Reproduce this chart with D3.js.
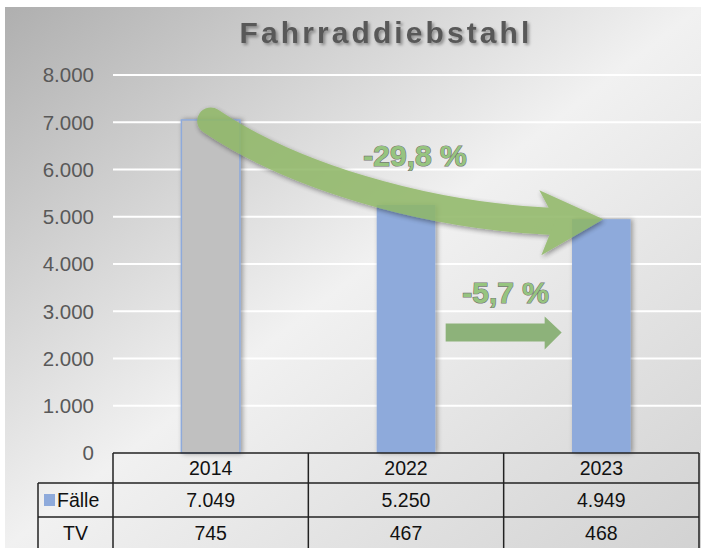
<!DOCTYPE html>
<html>
<head>
<meta charset="utf-8">
<script src="https://cdn.jsdelivr.net/npm/d3@7"></script>
<style>
  html, body { margin: 0; padding: 0; background: #fff; }
  svg { display: block; font-family: 'Liberation Sans', Arial, sans-serif; }
</style>
</head>
<body>
<div id="chart"></div>
<script>
// Daten
const years = ['2014', '2022', '2023']
const faelle = [7049, 5250, 4949]
const tv = [745, 467, 468]
const yTicks = [0, 1000, 2000, 3000, 4000, 5000, 6000, 7000, 8000]
const title = 'Fahrraddiebstahl'

const de = d3.formatLocale({ decimal: ',', thousands: '.', grouping: [3], currency: ['', ' €'], minus: '-' })
const fmtInt = de.format(',d')
const fmtPct = de.format(',.1f')

const width = 701
const height = 548
const chart = {
  left: 113,
  right: 699,
  top: 75,
  bottom: 453,
  headLeft: 38,
  rows: [453, 483, 517, 548]
}

const svg = d3.select('#chart')
  .append('svg')
  .attr('width', width)
  .attr('height', height)

const defs = svg.append('defs')

let bg = defs.append('linearGradient')
  .attr('id', 'bg')
  .attr('x1', 0).attr('y1', 0)
  .attr('x2', 1).attr('y2', 1)
bg.append('stop').attr('offset', 0).attr('stop-color', '#afafaf')
bg.append('stop').attr('offset', 0.5).attr('stop-color', '#f1f1f1')
bg.append('stop').attr('offset', 1).attr('stop-color', '#d2d2d2')

defs.append('filter')
  .attr('id', 'titleShadow')
  .attr('x', '-10%').attr('y', '-30%').attr('width', '120%').attr('height', '160%')
  .append('feDropShadow')
  .attr('dx', 2).attr('dy', 2)
  .attr('stdDeviation', 1.5)
  .attr('flood-color', '#000')
  .attr('flood-opacity', 0.35)

defs.append('filter')
  .attr('id', 'barShadow')
  .attr('x', '-30%').attr('y', '-10%').attr('width', '160%').attr('height', '120%')
  .append('feDropShadow')
  .attr('dx', 2).attr('dy', 0)
  .attr('stdDeviation', 2.5)
  .attr('flood-color', '#000')
  .attr('flood-opacity', 0.35)

defs.append('filter')
  .attr('id', 'arrowShadow')
  .attr('x', '-10%').attr('y', '-20%').attr('width', '120%').attr('height', '140%')
  .append('feDropShadow')
  .attr('dx', 1).attr('dy', 2)
  .attr('stdDeviation', 2.5)
  .attr('flood-color', '#000')
  .attr('flood-opacity', 0.45)

// Hintergrund
svg.append('rect')
  .attr('x', 5)
  .attr('y', 7)
  .attr('width', width - 5)
  .attr('height', height - 7)
  .attr('fill', 'url(#bg)')

svg.append('text')
  .attr('x', 386)
  .attr('y', 43)
  .attr('text-anchor', 'middle')
  .attr('font-size', 30)
  .attr('font-weight', 'bold')
  .attr('letter-spacing', 3.1)
  .attr('fill', '#595959')
  .attr('filter', 'url(#titleShadow)')
  .text(title)

const x = d3.scaleBand()
  .domain(years)
  .range([chart.left, chart.right])
  .padding(0)

const y = d3.scaleLinear()
  .domain([0, 8000])
  .range([chart.bottom, chart.top])

// Gitterlinien + Achse
svg.append('g')
  .selectAll('line')
  .data(yTicks.filter(d => d > 0))
  .enter()
  .append('line')
  .attr('x1', chart.left)
  .attr('x2', width)
  .attr('y1', d => y(d))
  .attr('y2', d => y(d))
  .style('stroke', '#fff')
  .style('stroke-width', 2)

svg.append('g')
  .selectAll('text')
  .data(yTicks)
  .enter()
  .append('text')
  .attr('x', 94)
  .attr('y', d => y(d))
  .attr('dy', '0.36em')
  .attr('text-anchor', 'end')
  .attr('font-size', 20.5)
  .attr('fill', '#595959')
  .text(d => fmtInt(d))

// Balken
const barW = x.bandwidth() * 0.3
svg.append('g')
  .selectAll('rect')
  .data(faelle)
  .enter()
  .append('rect')
  .attr('x', (d, i) => x(years[i]) + (x.bandwidth() - barW) / 2)
  .attr('y', d => y(d))
  .attr('width', barW)
  .attr('height', d => chart.bottom - y(d))
  .attr('fill', (d, i) => i === 0 ? '#c0c0c0' : '#8eaadb')
  .style('stroke', '#8eaadb')
  .style('stroke-width', (d, i) => i === 0 ? 1.5 : 0)
  .attr('filter', 'url(#barShadow)')

// großer Pfeil 2014 -> 2023
const cx = i => x(years[i]) + x.bandwidth() / 2
const x0 = cx(0)
const y0 = y(faelle[0]) + 1
const x1 = cx(2) + 2
const y1 = y(faelle[2])
const headLen = 64
const headHalf = 33
const bx = x1 - headLen + 6

let bigArrow = svg.append('g')
  .attr('filter', 'url(#arrowShadow)')
  .style('opacity', 0.86)

bigArrow.append('path')
  .attr('d', `M ${x0} ${y0} C ${x0 + 80} ${y0 + 54}, ${x0 + 210} ${y1 - 4}, ${bx + 4} ${y1 + 2}`)
  .style('fill', 'none')
  .style('stroke', '#8fb766')
  .style('stroke-width', 27)
  .style('stroke-linecap', 'round')

bigArrow.append('path')
  .attr('d', `M ${x1} ${y1} L ${x1 - headLen} ${y1 - headHalf + 4} L ${bx + 10} ${y1 + 1} L ${x1 - headLen + 2} ${y1 + headHalf + 3} Z`)
  .style('fill', '#8fb766')

// kleiner Pfeil 2022 -> 2023
const mid = x(years[2])
const ay = y(2550)
svg.append('path')
  .attr('d', `M ${mid - 58} ${ay - 9} L ${mid + 41} ${ay - 9} L ${mid + 41} ${ay - 16}
    L ${mid + 58} ${ay} L ${mid + 41} ${ay + 17} L ${mid + 41} ${ay + 9} L ${mid - 58} ${ay + 9} Z`)
  .style('fill', '#8db27a')

// Prozentangaben
const pct = (a, b) => fmtPct((b - a) / a * 100) + ' %'

const labels = [
  { text: pct(faelle[0], faelle[2]), x: (x0 + x1) / 2 + 8, y: 166 },
  { text: pct(faelle[1], faelle[2]), x: mid + 2, y: 303 }
]

svg.append('g')
  .selectAll('text')
  .data(labels)
  .enter()
  .append('text')
  .attr('x', d => d.x)
  .attr('y', d => d.y)
  .attr('text-anchor', 'middle')
  .attr('font-size', 30)
  .attr('font-weight', 'bold')
  .attr('fill', '#96c47f')
  .style('stroke', '#747474')
  .style('stroke-width', 1.2)
  .style('paint-order', 'stroke')
  .text(d => d.text)

// Datentabelle
let table = svg.append('g')
  .style('stroke', '#222')
  .style('stroke-width', 1.5)

const r = chart.rows
table.append('line').attr('x1', chart.left).attr('x2', chart.right).attr('y1', r[0]).attr('y2', r[0])
table.append('line').attr('x1', chart.headLeft).attr('x2', chart.right).attr('y1', r[1]).attr('y2', r[1])
table.append('line').attr('x1', chart.headLeft).attr('x2', chart.right).attr('y1', r[2]).attr('y2', r[2])
table.append('line').attr('x1', chart.headLeft).attr('x2', chart.headLeft).attr('y1', r[1]).attr('y2', r[3])

table.selectAll('.vline')
  .data(years.concat(['end']))
  .enter()
  .append('line')
  .attr('class', 'vline')
  .attr('x1', d => d === 'end' ? chart.right : x(d))
  .attr('x2', d => d === 'end' ? chart.right : x(d))
  .attr('y1', r[0])
  .attr('y2', r[3])

const rowY = i => (r[i] + r[i + 1]) / 2
const rows = [
  { label: '', values: years },
  { label: 'Fälle', values: faelle.map(fmtInt) },
  { label: 'TV', values: tv.map(fmtInt) }
]

rows.forEach((row, ri) => {
  svg.append('g')
    .selectAll('text')
    .data(row.values)
    .enter()
    .append('text')
    .attr('x', (d, i) => x(years[i]) + x.bandwidth() / 2)
    .attr('y', rowY(ri))
    .attr('dy', '0.36em')
    .attr('text-anchor', 'middle')
    .attr('font-size', 19.5)
    .attr('fill', '#111')
    .text(d => d)
})

svg.append('rect')
  .attr('x', 44)
  .attr('y', rowY(1) - 6)
  .attr('width', 11)
  .attr('height', 12)
  .attr('fill', '#8eaadb')

svg.append('text')
  .attr('x', 57)
  .attr('y', rowY(1))
  .attr('dy', '0.36em')
  .attr('font-size', 19.5)
  .attr('fill', '#111')
  .text(rows[1].label)

svg.append('text')
  .attr('x', (chart.headLeft + chart.left) / 2)
  .attr('y', rowY(2))
  .attr('dy', '0.36em')
  .attr('text-anchor', 'middle')
  .attr('font-size', 19.5)
  .attr('fill', '#111')
  .text(rows[2].label)
</script>
</body>
</html>
